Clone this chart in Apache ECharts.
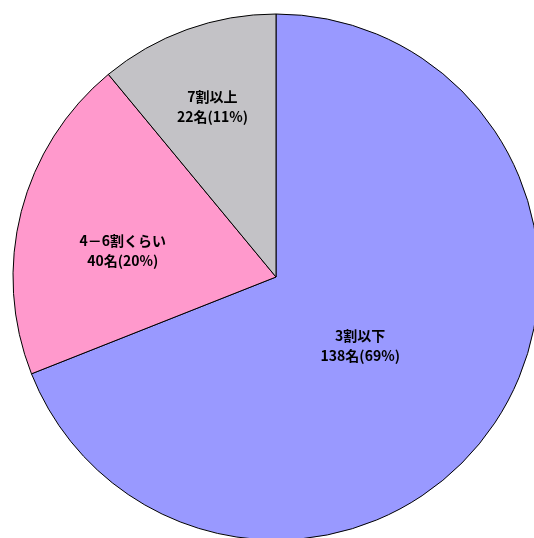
<!DOCTYPE html>
<html>
<head>
<meta charset="utf-8">
<script src="https://cdn.jsdelivr.net/npm/echarts@6/dist/echarts.min.js"></script>
<style>
html, body { margin: 0; padding: 0; background: #fff; }
#chart { width: 534px; height: 538px; }
</style>
</head>
<body>
<div id="chart"></div>
<script>
// data
var categories = ["3割以下", "4－6割くらい", "7割以上"];
var counts = [138, 40, 22];
var percents = [69, 20, 11];

// styles (kept apart from the data)
var sliceColors = ["#9999FF", "#FF99CC", "#C3C2C6"];
var labelOffsets = [[-27, -7], [-23, 7], [-18, -44]];

var seriesData = [];
for (var i = 0; i < categories.length; i++) {
  seriesData.push({
    name: categories[i],
    value: counts[i],
    pct: percents[i],
    itemStyle: { color: sliceColors[i] },
    label: { offset: labelOffsets[i] }
  });
}

var chart = echarts.init(document.getElementById("chart"));
chart.setOption({
  animation: false,
  series: [{
    type: "pie",
    center: [276, 277],
    radius: 263,
    startAngle: 90,
    clockwise: true,
    avoidLabelOverlap: false,
    itemStyle: { borderColor: "#000", borderWidth: 1 },
    label: {
      show: true,
      position: "inside",
      color: "#000",
      fontFamily: "Noto Sans CJK JP",
      fontSize: 14,
      fontWeight: "bold",
      lineHeight: 20,
      formatter: function (p) {
        return p.name + "\n" + p.value + "名(" + p.data.pct + "%)";
      }
    },
    labelLine: { show: false },
    emphasis: { disabled: true },
    data: seriesData
  }]
});
</script>
</body>
</html>
